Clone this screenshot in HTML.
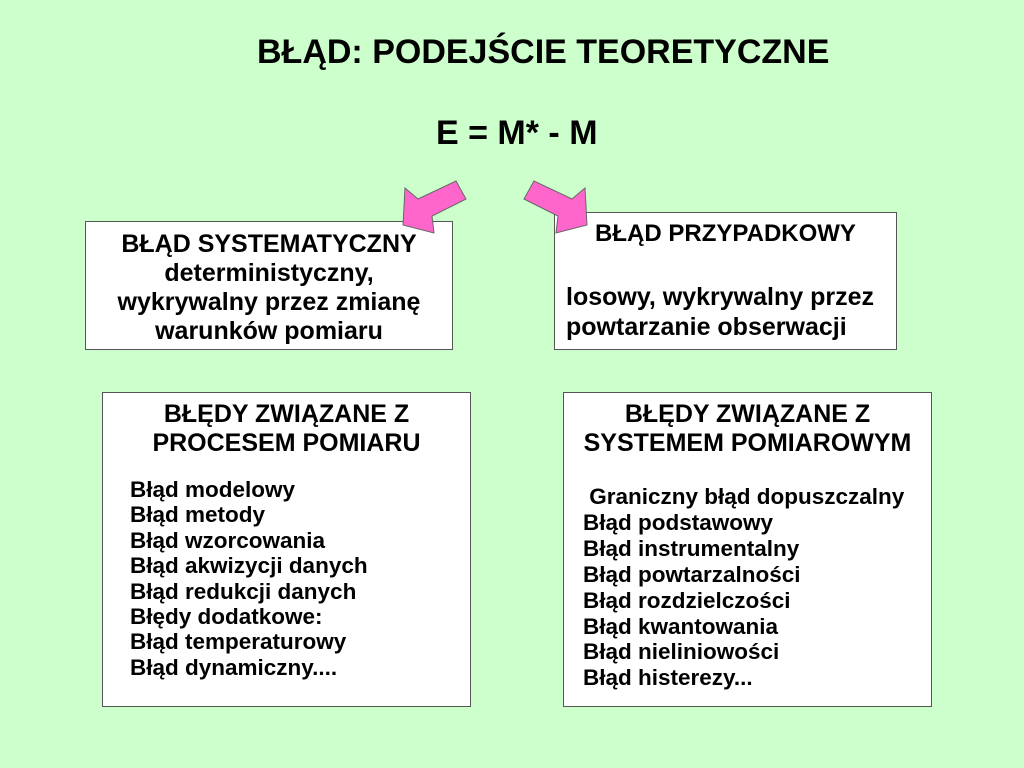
<!DOCTYPE html>
<html><head><meta charset="utf-8"><style>
body{margin:0;width:1024px;height:768px;background:#ccffcc;font-family:"Liberation Sans",sans-serif;font-weight:bold;color:#000;position:relative;overflow:hidden}
.a{position:absolute;white-space:nowrap}
.box{position:absolute;background:#fff;border:1px solid #555;box-sizing:border-box}
</style></head><body>
<div class="a" style="left:257px;top:32px;font-size:34px;line-height:40px">BŁĄD: PODEJŚCIE TEORETYCZNE</div>
<div class="a" style="left:436px;top:113px;font-size:34px;line-height:40px">E = M* - M</div>
<div class="box" style="left:85px;top:221px;width:368px;height:129px"></div>
<div class="a" style="left:85px;top:230px;width:368px;text-align:center;font-size:25px;line-height:29px">BŁĄD SYSTEMATYCZNY<br>deterministyczny,<br>wykrywalny przez zmianę<br>warunków pomiaru</div>
<div class="box" style="left:554px;top:212px;width:343px;height:138px"></div>
<div class="a" style="left:554px;top:219px;width:343px;text-align:center;font-size:24px;line-height:29px">BŁĄD PRZYPADKOWY</div>
<div class="a" style="left:566px;top:282px;font-size:25px;line-height:30px">losowy, wykrywalny przez<br>powtarzanie obserwacji</div>
<svg style="position:absolute;left:0;top:0" width="1024" height="768">
<polygon points="456,181 466,199 432,216 434,233 403,225 405,188 418,199" fill="#ff66cc" stroke="#666" stroke-width="1"/>
<polygon points="534,181 524,199 558,216 556,233 587,225 585,188 572,199" fill="#ff66cc" stroke="#666" stroke-width="1"/>
</svg>
<div class="box" style="left:102px;top:392px;width:369px;height:315px"></div>
<div class="a" style="left:102px;top:400px;width:369px;text-align:center;font-size:25px;line-height:29px">BŁĘDY ZWIĄZANE Z<br>PROCESEM POMIARU</div>
<div class="a" style="left:130px;top:477px;font-size:22.5px;line-height:25.4px">Błąd modelowy<br>Błąd metody<br>Błąd wzorcowania<br>Błąd akwizycji danych<br>Błąd redukcji danych<br>Błędy dodatkowe:<br>Błąd temperaturowy<br>Błąd dynamiczny....</div>
<div class="box" style="left:563px;top:392px;width:369px;height:315px"></div>
<div class="a" style="left:563px;top:400px;width:369px;text-align:center;font-size:25px;line-height:29px">BŁĘDY ZWIĄZANE Z<br>SYSTEMEM POMIAROWYM</div>
<div class="a" style="left:583px;top:484px;font-size:22.5px;line-height:25.9px">&nbsp;Graniczny błąd dopuszczalny<br>Błąd podstawowy<br>Błąd instrumentalny<br>Błąd powtarzalności<br>Błąd rozdzielczości<br>Błąd kwantowania<br>Błąd nieliniowości<br>Błąd histerezy...</div>
</body></html>
